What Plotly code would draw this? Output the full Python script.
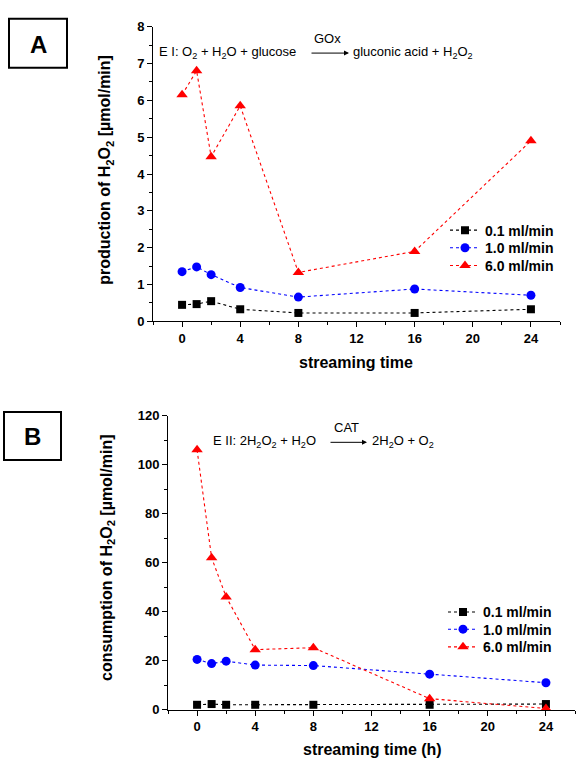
import plotly.graph_objects as go

time_h = [0, 1, 2, 4, 8, 16, 24]
series_names = ["0.1 ml/min", "1.0 ml/min", "6.0 ml/min"]

prod_01 = [0.45, 0.47, 0.55, 0.33, 0.23, 0.23, 0.33]
prod_10 = [1.35, 1.48, 1.27, 0.92, 0.66, 0.88, 0.71]
prod_60 = [6.15, 6.80, 4.47, 5.85, 1.33, 1.90, 4.90]

cons_01 = [2.0, 2.3, 2.0, 2.0, 2.0, 2.0, 2.3]
cons_10 = [20.5, 18.8, 19.8, 18.2, 18.0, 14.5, 11.0]
cons_60 = [106.0, 62.0, 46.0, 24.5, 25.3, 4.5, 0.5]

colors = ["black", "blue", "red"]
symbols = ["square", "circle", "triangle-up"]
sizes = [8, 9, 10]

W, H = 576, 767
def px(x):
    return x / W
def py(y):
    return 1 - y / H

FONT = "Liberation Sans, Arial, sans-serif"
legfont = dict(family=FONT, size=14, color="black", weight="bold")

fig = go.Figure()

# legend rows (pixel centers) for each panel
legA_rows = [228, 246, 264]
legB_rows = [617.5, 635, 653]

for i, (vals, name) in enumerate(zip([prod_01, prod_10, prod_60], series_names)):
    lg = "legend" if i == 0 else f"legend{i + 1}"
    fig.add_trace(go.Scatter(
        x=time_h, y=vals, name=name, mode="lines+markers",
        line=dict(color=colors[i], width=1.1, dash="dot"),
        marker=dict(color=colors[i], symbol=symbols[i], size=sizes[i]),
        xaxis="x", yaxis="y", legend=lg, cliponaxis=False))

for i, (vals, name) in enumerate(zip([cons_01, cons_10, cons_60], series_names)):
    lg = f"legend{i + 4}"
    fig.add_trace(go.Scatter(
        x=time_h, y=vals, name=name, mode="lines+markers",
        line=dict(color=colors[i], width=1.1, dash="dot"),
        marker=dict(color=colors[i], symbol=symbols[i], size=sizes[i]),
        xaxis="x2", yaxis="y2", legend=lg, cliponaxis=False))

tickfont = dict(family=FONT, size=13, color="black", weight="bold")
axis_common = dict(showline=True, linecolor="black", linewidth=1, ticks="outside",
                   ticklen=5, tickcolor="black", showgrid=False, zeroline=False,
                   tickfont=tickfont)

legends = {}
for i in range(3):
    key = "legend" if i == 0 else f"legend{i + 1}"
    legends[key] = dict(x=px(445), y=py(legA_rows[i]), xanchor="left", yanchor="middle",
                        bgcolor="rgba(0,0,0,0)", font=legfont, itemwidth=30)
    legends[f"legend{i + 4}"] = dict(x=px(443), y=py(legB_rows[i]), xanchor="left",
                                     yanchor="middle", bgcolor="rgba(0,0,0,0)",
                                     font=legfont, itemwidth=30)

fig.update_layout(
    width=W, height=H, margin=dict(l=0, r=0, t=0, b=0),
    paper_bgcolor="white", plot_bgcolor="white", showlegend=True,
    xaxis=dict(domain=[px(153), px(560)], range=[-2, 26], dtick=4, tick0=0,
               anchor="y",
               minor=dict(dtick=2, tick0=0, ticks="outside", ticklen=3, tickcolor="black"),
               **axis_common),
    yaxis=dict(domain=[py(320.7), py(20)], range=[0, 8], dtick=1, anchor="x",
               minor=dict(dtick=0.5, ticks="outside", ticklen=3, tickcolor="black"),
               **axis_common),
    xaxis2=dict(domain=[px(168), px(575)], range=[-2, 26], dtick=4, tick0=0,
                anchor="y2",
                minor=dict(dtick=2, tick0=0, ticks="outside", ticklen=3, tickcolor="black"),
                **axis_common),
    yaxis2=dict(domain=[py(716.7), py(416.7)], range=[0, 120], dtick=20, anchor="x2",
                minor=dict(dtick=10, ticks="outside", ticklen=3, tickcolor="black"),
                **axis_common),
    **legends,
)

title_font = dict(family=FONT, size=16, color="black", weight="bold")
eq_font = dict(family=FONT, size=13, color="black")

annotations = [
    # axis titles
    dict(x=px(356), y=py(363), text="streaming time", font=title_font),
    dict(x=px(372), y=py(757), text="streaming time (h)", font=title_font),
    dict(x=px(106), y=py(166), text="production of H<sub>2</sub>O<sub>2</sub> [µmol/min]",
         textangle=-90, font=title_font),
    dict(x=px(107), y=py(562), text="consumption of H<sub>2</sub>O<sub>2</sub> [µmol/min]",
         textangle=-90, font=title_font),
    # panel letters
    dict(x=px(38.5), y=py(38), text="A", font=dict(family=FONT, size=24, color="black", weight="bold")),
    dict(x=px(32.5), y=py(438), text="B", font=dict(family=FONT, size=24, color="black", weight="bold")),
    # reaction A
    dict(x=px(298), y=py(46), xanchor="right",
         text="E I: O<sub>2</sub> + H<sub>2</sub>O + glucose", font=eq_font),
    dict(x=px(351), y=py(46), xanchor="left",
         text="gluconic acid + H<sub>2</sub>O<sub>2</sub>", font=eq_font),
    dict(x=px(327), y=py(32), text="GOx", font=eq_font),
    # reaction B
    dict(x=px(318), y=py(443), xanchor="right",
         text="E II: 2H<sub>2</sub>O<sub>2</sub> + H<sub>2</sub>O", font=eq_font),
    dict(x=px(370), y=py(443), xanchor="left",
         text="2H<sub>2</sub>O + O<sub>2</sub>", font=eq_font),
    dict(x=px(346), y=py(429), text="CAT", font=eq_font),
]
for a in annotations:
    a.setdefault("xref", "paper")
    a.setdefault("yref", "paper")
    a.setdefault("showarrow", False)
    a.setdefault("xanchor", "center")
    a.setdefault("yanchor", "middle")
    fig.add_annotation(**a)

# reaction arrows
fig.add_annotation(x=px(349), y=py(47), xref="paper", yref="paper", text="",
                   showarrow=True, ax=-39, ay=0, arrowhead=2, arrowsize=1,
                   arrowwidth=1, arrowcolor="black")
fig.add_annotation(x=px(367), y=py(444), xref="paper", yref="paper", text="",
                   showarrow=True, ax=-38, ay=0, arrowhead=2, arrowsize=1,
                   arrowwidth=1, arrowcolor="black")

# panel boxes
fig.add_shape(type="rect", xref="paper", yref="paper",
              x0=px(9), x1=px(67), y0=py(62), y1=py(12),
              line=dict(color="black", width=2))
fig.add_shape(type="rect", xref="paper", yref="paper",
              x0=px(4), x1=px(61), y0=py(462), y1=py(413),
              line=dict(color="black", width=2))

fig.write_html("out.html")
